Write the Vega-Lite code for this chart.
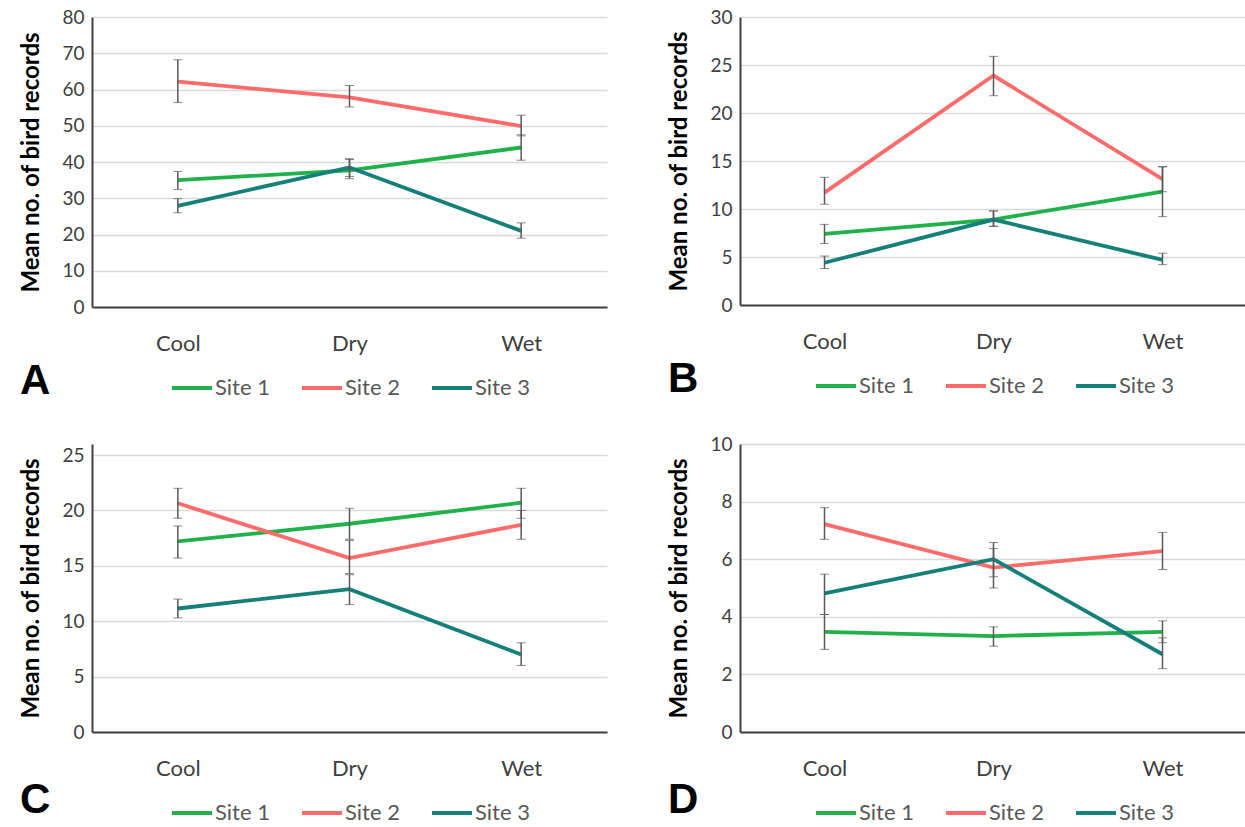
{
  "$schema": "https://vega.github.io/schema/vega-lite/v6.json",
  "background": "white",
  "padding": {"left": 19, "top": 8, "right": 0, "bottom": 0},
  "datasets": {
    "d": [
      {"panel": "A", "season": "Cool", "site": "Site 1", "mean": 35.0, "lo": 32.4, "hi": 37.4},
      {"panel": "A", "season": "Dry", "site": "Site 1", "mean": 37.7, "lo": 35.4, "hi": 40.7},
      {"panel": "A", "season": "Wet", "site": "Site 1", "mean": 44.0, "lo": 40.5, "hi": 47.5},
      {"panel": "A", "season": "Cool", "site": "Site 2", "mean": 62.2, "lo": 56.4, "hi": 68.2},
      {"panel": "A", "season": "Dry", "site": "Site 2", "mean": 57.8, "lo": 55.2, "hi": 61.1},
      {"panel": "A", "season": "Wet", "site": "Site 2", "mean": 49.9, "lo": 47.2, "hi": 52.9},
      {"panel": "A", "season": "Cool", "site": "Site 3", "mean": 27.9, "lo": 26.0, "hi": 29.9},
      {"panel": "A", "season": "Dry", "site": "Site 3", "mean": 38.5, "lo": 36.0, "hi": 40.9},
      {"panel": "A", "season": "Wet", "site": "Site 3", "mean": 21.0, "lo": 19.0, "hi": 23.2},
      {"panel": "B", "season": "Cool", "site": "Site 1", "mean": 7.4, "lo": 6.4, "hi": 8.4},
      {"panel": "B", "season": "Dry", "site": "Site 1", "mean": 8.9, "lo": 8.2, "hi": 9.8},
      {"panel": "B", "season": "Wet", "site": "Site 1", "mean": 11.8, "lo": 9.2, "hi": 14.4},
      {"panel": "B", "season": "Cool", "site": "Site 2", "mean": 11.7, "lo": 10.5, "hi": 13.3},
      {"panel": "B", "season": "Dry", "site": "Site 2", "mean": 23.9, "lo": 21.8, "hi": 25.9},
      {"panel": "B", "season": "Wet", "site": "Site 2", "mean": 13.1, "lo": 11.8, "hi": 14.4},
      {"panel": "B", "season": "Cool", "site": "Site 3", "mean": 4.4, "lo": 3.8, "hi": 5.1},
      {"panel": "B", "season": "Dry", "site": "Site 3", "mean": 8.9, "lo": 8.2, "hi": 9.8},
      {"panel": "B", "season": "Wet", "site": "Site 3", "mean": 4.7, "lo": 4.2, "hi": 5.4},
      {"panel": "C", "season": "Cool", "site": "Site 1", "mean": 17.2, "lo": 15.7, "hi": 18.6},
      {"panel": "C", "season": "Dry", "site": "Site 1", "mean": 18.8, "lo": 17.4, "hi": 20.2},
      {"panel": "C", "season": "Wet", "site": "Site 1", "mean": 20.7, "lo": 19.3, "hi": 22.0},
      {"panel": "C", "season": "Cool", "site": "Site 2", "mean": 20.65, "lo": 19.3, "hi": 22.0},
      {"panel": "C", "season": "Dry", "site": "Site 2", "mean": 15.7, "lo": 14.3, "hi": 17.3},
      {"panel": "C", "season": "Wet", "site": "Site 2", "mean": 18.7, "lo": 17.4, "hi": 20.0},
      {"panel": "C", "season": "Cool", "site": "Site 3", "mean": 11.15, "lo": 10.3, "hi": 12.0},
      {"panel": "C", "season": "Dry", "site": "Site 3", "mean": 12.9, "lo": 11.5, "hi": 14.2},
      {"panel": "C", "season": "Wet", "site": "Site 3", "mean": 7.0, "lo": 6.0, "hi": 8.05},
      {"panel": "D", "season": "Cool", "site": "Site 1", "mean": 3.48, "lo": 2.87, "hi": 4.08},
      {"panel": "D", "season": "Dry", "site": "Site 1", "mean": 3.33, "lo": 2.98, "hi": 3.65},
      {"panel": "D", "season": "Wet", "site": "Site 1", "mean": 3.48, "lo": 3.1, "hi": 3.86},
      {"panel": "D", "season": "Cool", "site": "Site 2", "mean": 7.22, "lo": 6.69, "hi": 7.79},
      {"panel": "D", "season": "Dry", "site": "Site 2", "mean": 5.71, "lo": 5.0, "hi": 6.37},
      {"panel": "D", "season": "Wet", "site": "Site 2", "mean": 6.28, "lo": 5.64, "hi": 6.93},
      {"panel": "D", "season": "Cool", "site": "Site 3", "mean": 4.81, "lo": 4.08, "hi": 5.48},
      {"panel": "D", "season": "Dry", "site": "Site 3", "mean": 6.0, "lo": 5.39, "hi": 6.58},
      {"panel": "D", "season": "Wet", "site": "Site 3", "mean": 2.7, "lo": 2.2, "hi": 3.27}
    ]
  },
  "data": {"name": "d"},
  "columns": 2,
  "spacing": {"column": 60, "row": 33},
  "resolve": {"scale": {"color": "independent", "y": "independent", "x": "independent"}, "legend": {"color": "independent"}, "axis": {"y": "independent", "x": "independent"}},
  "config": {
    "view": {"stroke": null},
    "font": "Lato",
    "axisY": {"gridColor": "#d9d9d9", "gridWidth": 1.5, "domainColor": "#404040", "domainWidth": 2, "ticks": false, "labelFontSize": 19, "labelColor": "#404040", "labelFont": "Lato", "labelPadding": 8, "labelOverlap": false, "titleFont": "Lato", "titleFontSize": 24, "titleFontWeight": "bold", "titleColor": "#000000", "titlePadding": 18},
    "axisX": {"grid": false, "domainColor": "#404040", "domainWidth": 2, "ticks": false, "labelFontSize": 22, "labelColor": "#404040", "labelFont": "Lato", "labelPadding": 26, "labelAngle": 0, "title": null},
    "legend": {"orient": "bottom", "direction": "horizontal", "title": null, "symbolType": "stroke", "symbolStrokeWidth": 4, "symbolSize": 1600, "labelFontSize": 22, "labelColor": "#595959", "labelFont": "Lato", "columnPadding": 24, "labelOffset": 1, "offset": 12, "layout": {"bottom": {"anchor": "middle"}}},
    "title": {"orient": "bottom", "anchor": "start", "frame": "bounds", "fontSize": 42, "font": "Liberation Sans", "fontWeight": "bold", "color": "#000000", "dy": -42}
  },
  "concat": [
    {
      "width": 515, "height": 290,
      "title": {"text": "A", "dy": -42},
      "transform": [{"filter": "datum.panel === 'A'"}],
      "encoding": {"x": {"field": "season", "type": "nominal", "sort": ["Cool", "Dry", "Wet"], "scale": {"type": "point", "padding": 0.5}}},
      "layer": [
        {"mark": {"type": "line", "strokeWidth": 3.8}, "encoding": {"y": {"field": "mean", "type": "quantitative", "scale": {"domain": [0, 80]}, "axis": {"title": "Mean no. of bird records", "values": [0, 10, 20, 30, 40, 50, 60, 70, 80]}}, "color": {"field": "site", "type": "nominal", "scale": {"domain": ["Site 1", "Site 2", "Site 3"], "range": ["#21b14b", "#ff6a6a", "#157f7a"]}}}},
        {"mark": {"type": "errorbar", "ticks": {"size": 9, "strokeWidth": 1.5, "color": "#595959"}, "rule": {"strokeWidth": 1.5, "color": "#595959"}}, "encoding": {"y": {"field": "lo", "type": "quantitative", "axis": {"title": "Mean no. of bird records", "values": [0, 10, 20, 30, 40, 50, 60, 70, 80]}}, "y2": {"field": "hi"}, "detail": {"field": "site"}}}
      ]
    },
    {
      "width": 507, "height": 288,
      "title": {"text": "B", "dy": -42},
      "transform": [{"filter": "datum.panel === 'B'"}],
      "encoding": {"x": {"field": "season", "type": "nominal", "sort": ["Cool", "Dry", "Wet"], "scale": {"type": "point", "padding": 0.5}}},
      "layer": [
        {"mark": {"type": "line", "strokeWidth": 3.8}, "encoding": {"y": {"field": "mean", "type": "quantitative", "scale": {"domain": [0, 30]}, "axis": {"title": "Mean no. of bird records", "values": [0, 5, 10, 15, 20, 25, 30]}}, "color": {"field": "site", "type": "nominal", "scale": {"domain": ["Site 1", "Site 2", "Site 3"], "range": ["#21b14b", "#ff6a6a", "#157f7a"]}}}},
        {"mark": {"type": "errorbar", "ticks": {"size": 9, "strokeWidth": 1.5, "color": "#595959"}, "rule": {"strokeWidth": 1.5, "color": "#595959"}}, "encoding": {"y": {"field": "lo", "type": "quantitative", "axis": {"title": "Mean no. of bird records", "values": [0, 5, 10, 15, 20, 25, 30]}}, "y2": {"field": "hi"}, "detail": {"field": "site"}}}
      ]
    },
    {
      "width": 515, "height": 288,
      "title": {"text": "C", "dy": -48},
      "transform": [{"filter": "datum.panel === 'C'"}],
      "encoding": {"x": {"field": "season", "type": "nominal", "sort": ["Cool", "Dry", "Wet"], "scale": {"type": "point", "padding": 0.5}}},
      "layer": [
        {"mark": {"type": "line", "strokeWidth": 3.8}, "encoding": {"y": {"field": "mean", "type": "quantitative", "scale": {"domain": [0, 25]}, "axis": {"title": "Mean no. of bird records", "values": [0, 5, 10, 15, 20, 25]}}, "color": {"field": "site", "type": "nominal", "scale": {"domain": ["Site 1", "Site 2", "Site 3"], "range": ["#21b14b", "#ff6a6a", "#157f7a"]}}}},
        {"mark": {"type": "errorbar", "ticks": {"size": 9, "strokeWidth": 1.5, "color": "#595959"}, "rule": {"strokeWidth": 1.5, "color": "#595959"}}, "encoding": {"y": {"field": "lo", "type": "quantitative", "axis": {"title": "Mean no. of bird records", "values": [0, 5, 10, 15, 20, 25]}}, "y2": {"field": "hi"}, "detail": {"field": "site"}}}
      ]
    },
    {
      "width": 507, "height": 288,
      "title": {"text": "D", "dy": -48},
      "transform": [{"filter": "datum.panel === 'D'"}],
      "encoding": {"x": {"field": "season", "type": "nominal", "sort": ["Cool", "Dry", "Wet"], "scale": {"type": "point", "padding": 0.5}}},
      "layer": [
        {"mark": {"type": "line", "strokeWidth": 3.8}, "encoding": {"y": {"field": "mean", "type": "quantitative", "scale": {"domain": [0, 10]}, "axis": {"title": "Mean no. of bird records", "values": [0, 2, 4, 6, 8, 10]}}, "color": {"field": "site", "type": "nominal", "scale": {"domain": ["Site 1", "Site 2", "Site 3"], "range": ["#21b14b", "#ff6a6a", "#157f7a"]}}}},
        {"mark": {"type": "errorbar", "ticks": {"size": 9, "strokeWidth": 1.5, "color": "#595959"}, "rule": {"strokeWidth": 1.5, "color": "#595959"}}, "encoding": {"y": {"field": "lo", "type": "quantitative", "axis": {"title": "Mean no. of bird records", "values": [0, 2, 4, 6, 8, 10]}}, "y2": {"field": "hi"}, "detail": {"field": "site"}}}
      ]
    }
  ]
}
